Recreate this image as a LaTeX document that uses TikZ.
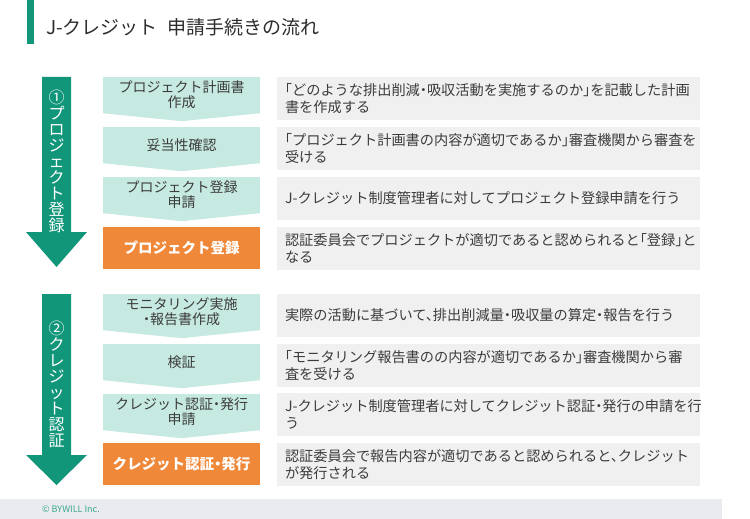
\documentclass[tikz,border=0pt]{standalone}
\usepackage{fontspec}
\setmainfont[RawFeature=+halt]{Noto Sans CJK JP}
\definecolor{jgreen}{RGB}{17,150,122}
\definecolor{jlight}{RGB}{198,233,226}
\definecolor{jorange}{RGB}{240,136,58}
\definecolor{jgray}{RGB}{240,240,240}
\definecolor{jtext}{RGB}{60,60,60}
\definecolor{jtitle}{RGB}{45,45,45}
\definecolor{jfoot}{RGB}{234,235,239}
\definecolor{jfoottext}{RGB}{60,168,143}
\tikzset{
stepbox/.style={fill=jlight,minimum width=157pt,minimum height=36pt,inner sep=0pt,align=center,text=jtext,font=\fontsize{14}{15}\selectfont},
regbox/.style={fill=jorange,minimum width=157pt,minimum height=42pt,inner sep=0pt,text=white,font=\fontsize{14.5}{16}\selectfont\bfseries},
descbox/.style={fill=jgray,minimum height=43pt,text width=407pt,inner xsep=8pt,inner ysep=0pt,align=left,text=jtext,font=\fontsize{14.2}{16.5}\selectfont},
phaselabel/.style={text=white,align=center,inner sep=0pt,font=\fontsize{16}{16}\selectfont}
}
\begin{document}
\begin{tikzpicture}[x=1pt,y=-1pt,line join=round]
\useasboundingbox (0,0) rectangle (750,519);
\fill[jgreen] (27,0) rectangle (34,44);
\node[anchor=west,inner sep=0pt,text=jtitle,font=\fontsize{19}{21}\selectfont] (title) at (46,27) {J-クレジット\hspace{0.5em}申請手続きの流れ};
\foreach \top/\hd/\tip/\nm/\cy/\lbl in {77/232/267/phasereg/161/{①\\プ\\ロ\\ジ\\ェ\\ク\\ト\\登\\録},294/455/485/phasecert/384/{②\\ク\\レ\\ジ\\ッ\\ト\\認\\証}}{
\fill[jgreen] (42,\top) -- (71,\top) -- (71,\hd) -- (87,\hd) -- (56.5,\tip) -- (26,\hd) -- (42,\hd) -- cycle;
\node[phaselabel] (\nm) at (56.5,\cy) {\lbl};
}
\foreach \i/\y/\txt in {1/77/{プロジェクト計画書\\作成},2/127/{妥当性確認},3/177/{プロジェクト登録\\申請},5/294/{モニタリング実施\\・報告書作成},6/344/{検証},7/394/{クレジット認証・発行\\申請}}{
\node[stepbox] (st\i) at (181.5,{\y+18}) {\txt};
\fill[jlight] (st\i.south west) -- ([yshift=-8pt]st\i.south) -- (st\i.south east) -- cycle;
}
\node[regbox] (st4) at (181.5,248) {プロジェクト登録};
\node[regbox] (st8) at (181.5,464) {クレジット認証・発行};
\foreach \i/\y/\txt in {1/77/{「どのような排出削減・吸収活動を実施するのか」を記載した計画\\書を作成する},2/127/{「プロジェクト計画書の内容が適切であるか」審査機関から審査を\\受ける},3/177/{J-クレジット制度管理者に対してプロジェクト登録申請を行う},4/227/{認証委員会でプロジェクトが適切であると認められると「登録」と\\なる},5/294/{実際の活動に基づいて、排出削減量・吸収量の算定・報告を行う},6/344/{「モニタリング報告書のの内容が適切であるか」審査機関から審\\査を受ける},7/393/{J-クレジット制度管理者に対してクレジット認証・発行の申請を行\\う},8/443/{認証委員会で報告内容が適切であると認められると、クレジット\\が発行される}}{
\node[descbox] (ds\i) at (488.5,{\y+21.5}) {\txt};
}
\fill[jfoot] (0,499) rectangle (722,519);
\node[anchor=west,inner sep=0pt,text=jfoottext,font=\fontsize{9}{10}\selectfont] (copy) at (42,509) {© BYWILL Inc.};
\end{tikzpicture}
\end{document}
